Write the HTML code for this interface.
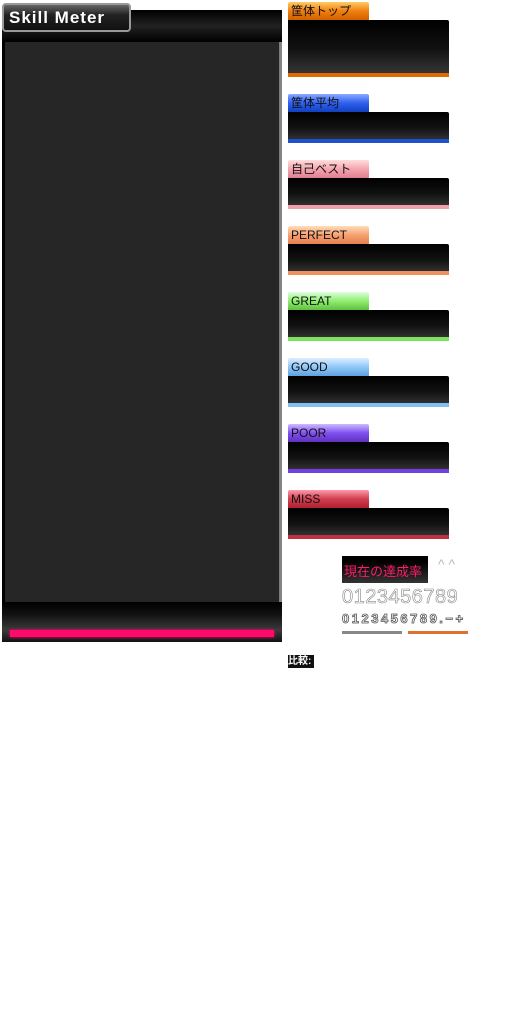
<!DOCTYPE html>
<html><head><meta charset="utf-8"><style>
body{margin:0;width:512px;height:1024px;background:#fff;position:relative;overflow:hidden;font-family:"Liberation Sans","Noto Sans CJK JP",sans-serif}
div{position:absolute;box-sizing:border-box}
.tab{width:81px;height:18px;border-radius:2px 2px 0 0;font-size:12px;line-height:18px;padding-left:3px;color:#111}
.pan{left:288px;width:161px;background:linear-gradient(#000 0%,#111 50%,#333 90%);border-radius:0 2px 2px 2px}
.bar{left:0;right:0;bottom:0;height:4px}
</style></head><body>
<div style="left:2px;top:10px;width:280px;height:632px;background:linear-gradient(90deg,#000,#111 40%,#000 90%,#888 100%)">
 <div style="left:0;top:0;width:280px;height:32px;background:linear-gradient(#000,#222 50%,#000)"></div>
 <div style="left:3px;top:32px;width:274px;height:560px;background:#262626"></div>
 <div style="left:0;top:592px;width:280px;height:40px;background:linear-gradient(#000,#111 30%,#3a3a3a 70%,#111)"></div>
 <div style="left:8px;top:620px;width:264px;height:7px;background:#ff0a6a;box-shadow:0 0 3px #f06"></div>
</div>
<div style="left:2px;top:3px;width:129px;height:29px;background:linear-gradient(#666,#222 40%,#111);border:2px solid #999;border-radius:4px;color:#fff;font-weight:bold;font-size:17px;line-height:25px;padding-left:5px;letter-spacing:1px">Skill Meter</div>

<div class="tab" style="left:288px;top:2px;background:linear-gradient(#fc6,#f08010 50%,#d06000)">筐体トップ</div>
<div class="pan" style="top:20px;height:57px"><div class="bar" style="background:#e06a00"></div></div>

<div class="tab" style="left:288px;top:94px;background:linear-gradient(#8af,#3060f0 50%,#1040c0)">筐体平均</div>
<div class="pan" style="top:112px;height:31px"><div class="bar" style="background:#2050d0"></div></div>

<div class="tab" style="left:288px;top:160px;background:linear-gradient(#fdd,#f5a5b0 50%,#e08090)">自己ベスト</div>
<div class="pan" style="top:178px;height:31px"><div class="bar" style="background:#f0a0a8"></div></div>

<div class="tab" style="left:288px;top:226px;background:linear-gradient(#fdb,#f8a070 50%,#e08050)">PERFECT</div>
<div class="pan" style="top:244px;height:31px"><div class="bar" style="background:#f09060"></div></div>

<div class="tab" style="left:288px;top:292px;background:linear-gradient(#dfd,#90ee70 50%,#60c040)">GREAT</div>
<div class="pan" style="top:310px;height:31px"><div class="bar" style="background:#80e060"></div></div>

<div class="tab" style="left:288px;top:358px;background:linear-gradient(#def,#90c8f8 50%,#60a0e0)">GOOD</div>
<div class="pan" style="top:376px;height:31px"><div class="bar" style="background:#80c0f0"></div></div>

<div class="tab" style="left:288px;top:424px;background:linear-gradient(#cbf,#8050f0 50%,#6030c0)">POOR</div>
<div class="pan" style="top:442px;height:31px"><div class="bar" style="background:#7040e0"></div></div>

<div class="tab" style="left:288px;top:490px;background:linear-gradient(#f9a,#d04050 50%,#b02030)">MISS</div>
<div class="pan" style="top:508px;height:31px"><div class="bar" style="background:#c03040"></div></div>

<div style="left:342px;top:556px;width:86px;height:27px;background:linear-gradient(#000 20%,#333);color:#ff1a6a;font-size:13px;line-height:32px;padding-left:2px">現在の達成率</div>
<div style="left:438px;top:556px;color:#bbb;font-size:14px">^ ^</div>
<div style="left:342px;top:586px;color:#fff;-webkit-text-stroke:0.6px #888;font-size:20px;letter-spacing:0.5px">0123456789</div>
<div style="left:342px;top:611px;color:#fff;-webkit-text-stroke:0.8px #555;font-weight:bold;font-size:13px;letter-spacing:2.5px">0123456789.−+</div>
<div style="left:342px;top:631px;width:60px;height:3px;background:#888"></div>
<div style="left:408px;top:631px;width:60px;height:3px;background:#e07030"></div>
<div style="left:288px;top:655px;width:26px;height:13px;background:#111;color:#fff;font-size:10px;line-height:13px;font-weight:bold">比較:</div>
</body></html>
